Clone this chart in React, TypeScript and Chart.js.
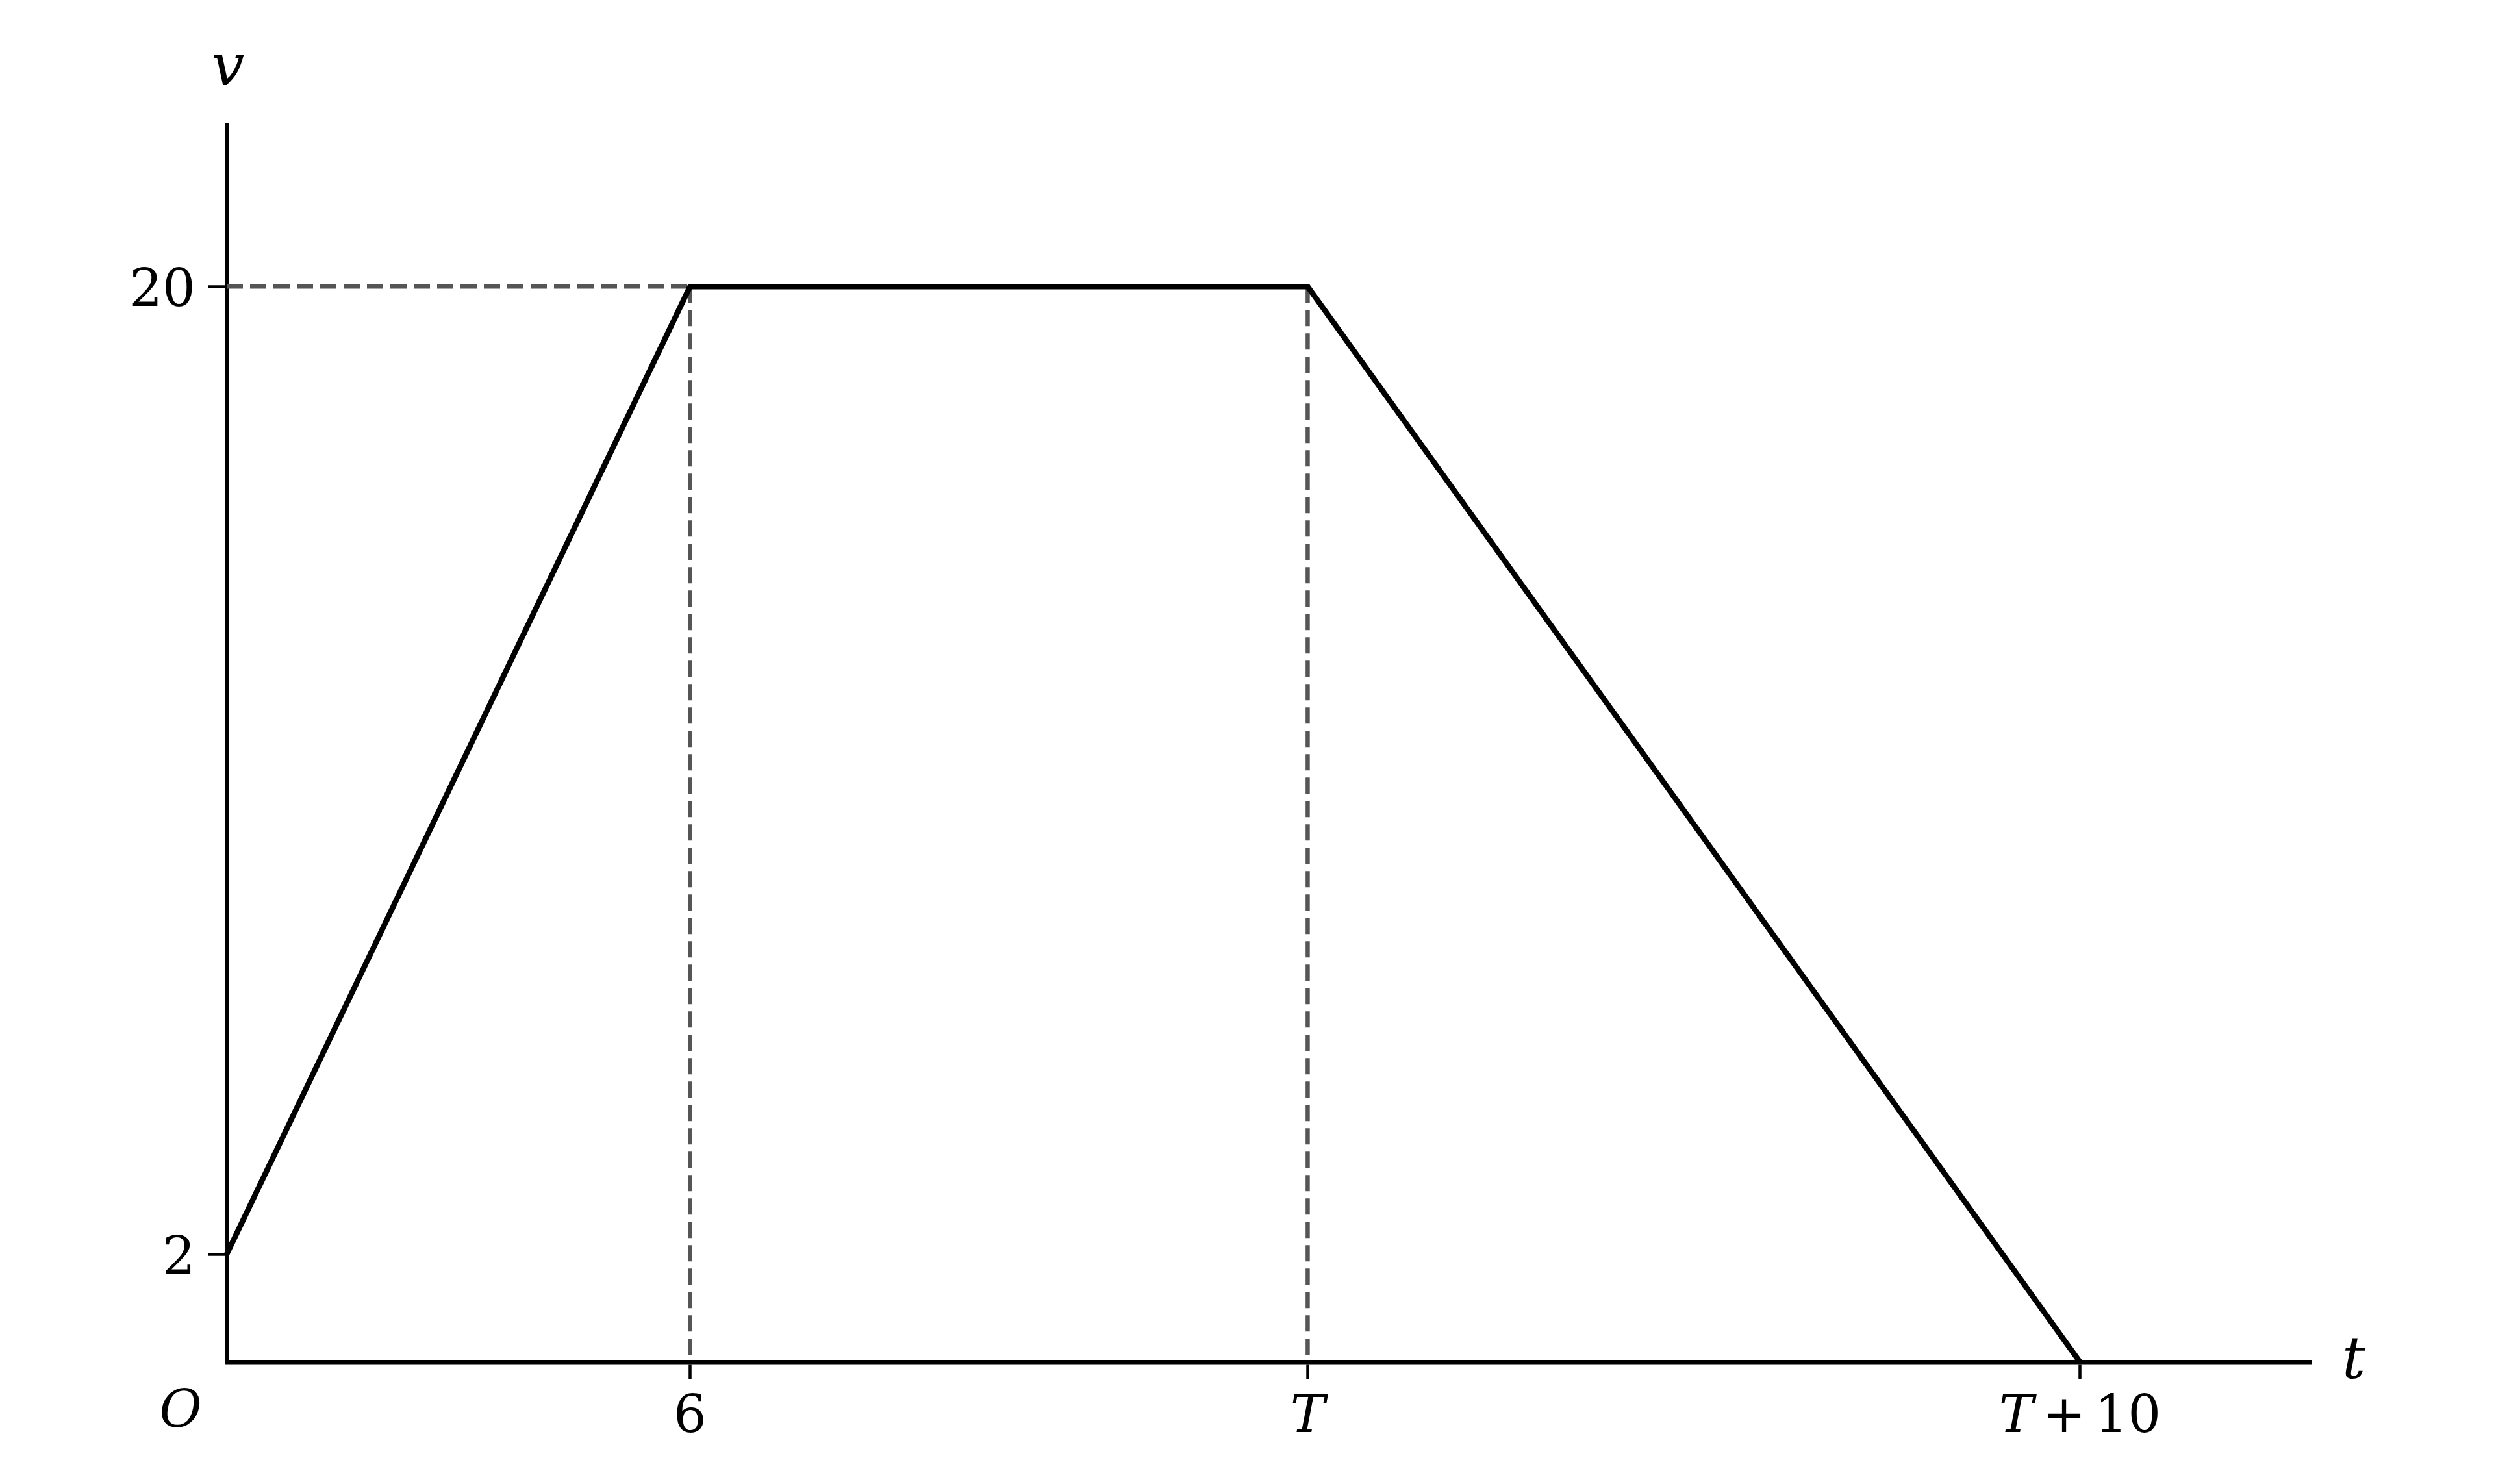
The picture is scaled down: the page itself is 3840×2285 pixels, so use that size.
import React, { useEffect, useRef } from "react";
import { Chart, registerables } from "chart.js";

Chart.register(...registerables);

// ---- data ----
const tPoints = [0, 6, 14, 24];
const vPoints = [2, 20, 20, 0];
const guideTimes = [6, 14];
const guideLevel = 20;
const xTickValues = [6, 14, 24];
const xTickLabels = ["6", "T", "T+10"];
const yTickValues = [2, 20];
const yTickLabels = ["2", "20"];
const originLabel = "O";
const xAxisLabel = "t";
const yAxisLabel = "v";
const xMax = 27;
const yMax = 23;

const SERIF = '"DejaVu Serif", "Liberation Serif", serif';

function drawMixedLabel(ctx: CanvasRenderingContext2D, label: string, cx: number, baseline: number, size: number) {
  // letters italic, digits/operators upright, medium space around "+"
  type Seg = { text: string; italic: boolean; padL: number; padR: number };
  const segs: Seg[] = [];
  const re = /([A-Za-z]+)|([0-9.]+)|([+\-])/g;
  let m: RegExpExecArray | null;
  while ((m = re.exec(label)) !== null) {
    if (m[1]) segs.push({ text: m[1], italic: true, padL: 0, padR: 0 });
    else if (m[2]) segs.push({ text: m[2], italic: false, padL: 0, padR: 0 });
    else segs.push({ text: m[3], italic: false, padL: size * 0.17, padR: size * 0.17 });
  }
  const widths = segs.map((s) => {
    ctx.font = `${s.italic ? "italic " : ""}${size}px ${SERIF}`;
    return ctx.measureText(s.text).width + s.padL + s.padR;
  });
  const total = widths.reduce((a, b) => a + b, 0);
  let x = cx - total / 2;
  ctx.textAlign = "left";
  ctx.textBaseline = "alphabetic";
  segs.forEach((s, i) => {
    ctx.font = `${s.italic ? "italic " : ""}${size}px ${SERIF}`;
    ctx.fillText(s.text, x + s.padL, baseline);
    x += widths[i];
  });
}

const labelPlugin = {
  id: "mathLabels",
  afterDraw(chart: any) {
    const ctx: CanvasRenderingContext2D = chart.ctx;
    const xs = chart.scales.x;
    const ys = chart.scales.y;
    const area = chart.chartArea;
    ctx.save();
    ctx.fillStyle = "#000";
    // y tick labels
    ctx.font = `80px ${SERIF}`;
    ctx.textAlign = "right";
    ctx.textBaseline = "alphabetic";
    yTickValues.forEach((v, i) => {
      ctx.fillText(yTickLabels[i], area.left - 48, ys.getPixelForValue(v) + 30);
    });
    // x tick labels
    xTickValues.forEach((v, i) => {
      drawMixedLabel(ctx, xTickLabels[i], xs.getPixelForValue(v), area.bottom + 108, 80);
    });
    // origin
    ctx.font = `italic 80px ${SERIF}`;
    ctx.textAlign = "center";
    ctx.fillText(originLabel, xs.getPixelForValue(0) - 71, area.bottom + 100);
    // axis labels
    ctx.font = `italic 90px ${SERIF}`;
    ctx.textAlign = "center";
    ctx.fillText(yAxisLabel, xs.getPixelForValue(0) + 2, area.top - 62);
    ctx.fillText(xAxisLabel, area.right + 65, area.bottom + 25);
    ctx.restore();
  },
};

export default function App() {
  const canvasRef = useRef<HTMLCanvasElement | null>(null);

  useEffect(() => {
    const canvas = canvasRef.current;
    if (!canvas) return;
    const mainData = tPoints.map((t, i) => ({ x: t, y: vPoints[i] }));
    const guideSets = [
      {
        data: [
          { x: 0, y: guideLevel },
          { x: guideTimes[0], y: guideLevel },
        ],
      },
      ...guideTimes.map((g) => ({
        data: [
          { x: g, y: guideLevel },
          { x: g, y: 0 },
        ],
      })),
    ];
    const chart = new Chart(canvas, {
      type: "line",
      data: {
        datasets: [
          {
            data: mainData,
            borderColor: "#000000",
            borderWidth: 8.5,
            pointRadius: 0,
            tension: 0,
            borderJoinStyle: "miter",
            borderCapStyle: "butt",
            clip: false as any,
            order: 0,
          },
          ...guideSets.map((g) => ({
            data: g.data,
            borderColor: "#555555",
            borderWidth: 6.5,
            borderDash: [25, 11],
            pointRadius: 0,
            tension: 0,
            clip: false as any,
            order: 1,
          })),
        ],
      },
      options: {
        animation: false,
        responsive: false,
        devicePixelRatio: 1,
        layout: { padding: { left: 309, right: 281, top: 193, bottom: 148 } },
        plugins: { legend: { display: false }, tooltip: { enabled: false } },
        scales: {
          x: {
            type: "linear",
            min: 0,
            max: xMax,
            afterBuildTicks: (axis: any) => {
              axis.ticks = xTickValues.map((v) => ({ value: v }));
            },
            afterFit: (axis: any) => {
              axis.height = 40;
            },
            ticks: { display: false },
            grid: {
              display: true,
              drawOnChartArea: false,
              drawTicks: true,
              tickLength: 27,
              tickWidth: 4.5,
              tickColor: "#000000",
            },
            border: { display: true, color: "#000000", width: 6.5 },
          },
          y: {
            type: "linear",
            min: 0,
            max: yMax,
            afterBuildTicks: (axis: any) => {
              axis.ticks = yTickValues.map((v) => ({ value: v }));
            },
            afterFit: (axis: any) => {
              axis.width = 40;
            },
            ticks: { display: false },
            grid: {
              display: true,
              drawOnChartArea: false,
              drawTicks: true,
              tickLength: 29,
              tickWidth: 4.5,
              tickColor: "#000000",
            },
            border: { display: true, color: "#000000", width: 6.5 },
          },
        },
      } as any,
      plugins: [labelPlugin],
    });
    return () => chart.destroy();
  }, []);

  return (
    <div style={{ position: "fixed", left: 0, top: 0, width: 3840, height: 2285, background: "#fff" }}>
      <canvas ref={canvasRef} width={3840} height={2285} style={{ width: 3840, height: 2285, display: "block" }} />
    </div>
  );
}
